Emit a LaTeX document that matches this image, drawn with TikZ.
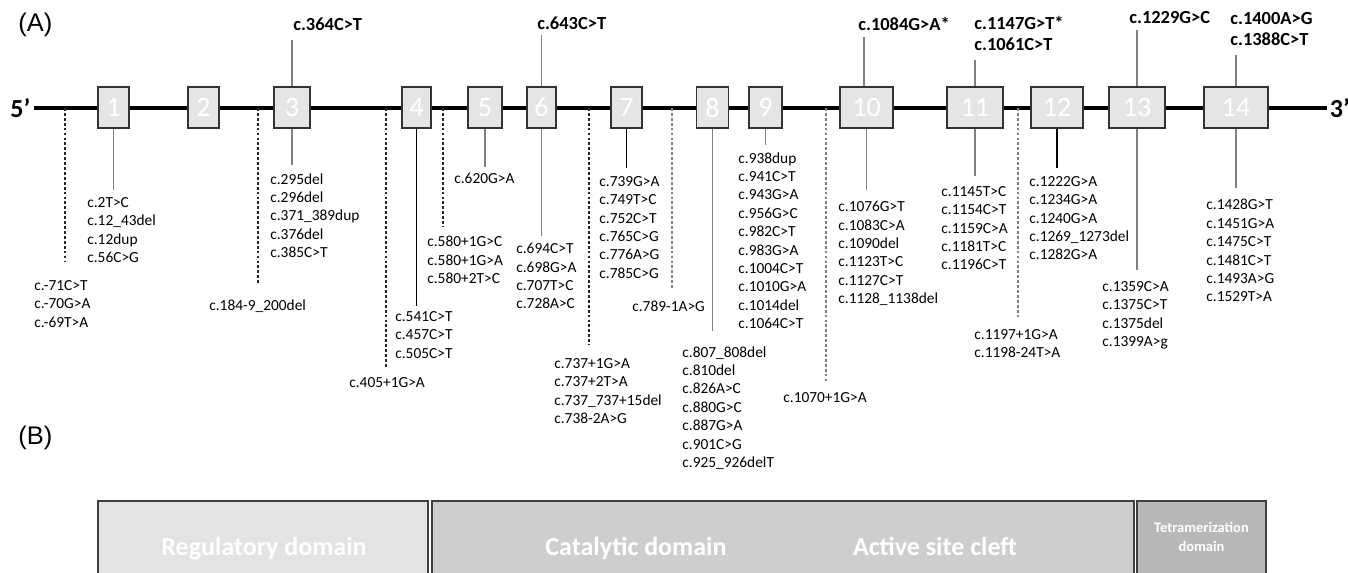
\documentclass[tikz,border=0pt]{standalone}
\usepackage{fontspec}
\setmainfont{Carlito}
\newfontfamily\arialfont{Liberation Sans}
\usepackage{tikz}
\usetikzlibrary{positioning}
\definecolor{regfill}{RGB}{227,227,227}
\definecolor{catfill}{RGB}{205,207,206}
\definecolor{tetfill}{RGB}{184,184,184}

\begin{document}
\begin{tikzpicture}[
    x=0.02cm, y=-0.02cm,
    exon/.style={rectangle, draw=black!80, line width=0.85pt, fill=gray!20, inner sep=0pt, minimum height=0.82cm, text=white, font=\fontsize{16}{18}\selectfont},
    mut/.style={anchor=north west, inner sep=0pt, align=left, font=\fontsize{8.76}{10.47}\selectfont},
    hot/.style={anchor=south west, inner sep=0pt, align=left, font=\bfseries\fontsize{10.5}{11.8}\selectfont},
    conn/.style={gray, line width=0.85pt},
    connk/.style={black, line width=0.6pt},
    dconn/.style={black!85, line width=0.6pt, dash pattern=on 1.6pt off 1.2pt},
    dom/.style={rectangle, draw=black!75, line width=0.9pt, inner sep=0pt, minimum height=1.84cm},
    domtext/.style={anchor=base, inner sep=0pt, text=white, font=\bfseries\fontsize{14.8}{16}\selectfont},
    tag/.style={anchor=west, inner sep=0pt, font=\arialfont\fontsize{14.5}{16}\selectfont}
]
    \useasboundingbox (0,0) rectangle (1348,572);

    % Panel tags
    \node[tag] (tagA) at (18,25) {(A)};
    \node[tag] (tagB) at (18,438) {(B)};

    % Gene line
    \node[anchor=west, inner sep=0.06cm, font=\bfseries\fontsize{14.8}{16}\selectfont] (five) at (7,108) {5’};
    \node[anchor=west, inner xsep=0.05cm, inner ysep=0pt, font=\bfseries\fontsize{14.8}{16}\selectfont] (three) at (1327,108) {3’};
    \draw[line width=1.9pt] (five.east) -- (three.west);

    % Exons
    \foreach \n/\cx/\w in {1/113.5/0.62, 2/203.5/0.62, 3/292/0.72, 4/416.5/0.58, 5/485/0.68,
        6/541.5/0.58, 7/626.5/0.62, 8/712.5/0.64, 9/765.5/0.66, 10/866.5/1.06,
        11/975/1.12, 12/1057/1.04, 13/1137/1.12, 14/1236/1.28}
        \node[exon, minimum width=\w cm] (e\n) at (\cx,107.5) {\n};

    % Splice sites on the intron line
    \coordinate (d1) at (65,108);
    \coordinate (d2) at (258,108);
    \coordinate (d3) at (386,108);
    \coordinate (d4) at (443,108);
    \coordinate (d5) at (589,108);
    \coordinate (d6) at (672,108);
    \coordinate (d7) at (826,108);
    \coordinate (d8) at (1018,108);

    % Recurrent mutations above
    \node[hot] (u3) at (293,31) {c.364C>T};
    \node[hot] (u6) at (537,30) {c.643C>T};
    \node[hot] (u10) at (858,31) {c.1084G>A*};
    \node[hot] (u11) at (974,51) {c.1147G>T*\\c.1061C>T};
    \node[hot] (u13) at (1129,24) {c.1229G>C};
    \node[hot] (u14) at (1230,46) {c.1400A>G\\c.1388C>T};

    \draw[conn, shorten >=0.18cm] (e3.north) -- (e3.north |- u3.south);
    \draw[conn, shorten >=0.10cm] (e6.north) -- (e6.north |- u6.south);
    \draw[conn, shorten >=0.12cm] ([xshift=-0.05cm]e10.north) -- ([xshift=-0.05cm]e10.north |- u10.south);
    \draw[conn, shorten >=0.18cm] (e11.north) -- (e11.north |- u11.south);
    \draw[conn, shorten >=0.12cm] (e13.north) -- (e13.north |- u13.south);
    \draw[conn, shorten >=0.18cm] (e14.north) -- (e14.north |- u14.south);

    % Exonic mutations below
    \node[mut] (m1) at (87,197) {c.2T>C\\c.12\_43del\\c.12dup\\c.56C>G};
    \node[mut] (m3) at (270,173) {c.295del\\c.296del\\c.371\_389dup\\c.376del\\c.385C>T};
    \node[mut] (m4) at (395,311) {c.541C>T\\c.457C>T\\c.505C>T};
    \node[mut] (m5) at (454,173) {c.620G>A};
    \node[mut] (m6) at (516,243) {c.694C>T\\c.698G>A\\c.707T>C\\c.728A>C};
    \node[mut] (m7) at (599,176) {c.739G>A\\c.749T>C\\c.752C>T\\c.765C>G\\c.776A>G\\c.785C>G};
    \node[mut] (m8) at (682,346) {c.807\_808del\\c.810del\\c.826A>C\\c.880G>C\\c.887G>A\\c.901C>G\\c.925\_926delT};
    \node[mut] (m9) at (738,152) {c.938dup\\c.941C>T\\c.943G>A\\c.956G>C\\c.982C>T\\c.983G>A\\c.1004C>T\\c.1010G>A\\c.1014del\\c.1064C>T};
    \node[mut] (m10) at (838,201) {c.1076G>T\\c.1083C>A\\c.1090del\\c.1123T>C\\c.1127C>T\\c.1128\_1138del};
    \node[mut] (m11) at (941,186) {c.1145T>C\\c.1154C>T\\c.1159C>A\\c.1181T>C\\c.1196C>T};
    \node[mut] (m12) at (1029,176) {c.1222G>A\\c.1234G>A\\c.1240G>A\\c.1269\_1273del\\c.1282G>A};
    \node[mut] (m13) at (1102,281) {c.1359C>A\\c.1375C>T\\c.1375del\\c.1399A>g};
    \node[mut] (m14) at (1206,199) {c.1428G>T\\c.1451G>A\\c.1475C>T\\c.1481C>T\\c.1493A>G\\c.1529T>A};

    \draw[conn, shorten >=0.14cm] (e1.south) -- (e1.south |- m1.north);
    \draw[conn, shorten >=0.16cm] (e3.south) -- (e3.south |- m3.north);
    \draw[connk, shorten >=0.10cm] (e4.south) -- (e4.south |- m4.north);
    \draw[conn, shorten >=0.12cm] (e5.south) -- (e5.south |- m5.north);
    \draw[conn, shorten >=0.14cm] (e6.south) -- (e6.south |- m6.north);
    \draw[connk, shorten >=0.16cm] (e7.south) -- (e7.south |- m7.north);
    \draw[conn, shorten >=0.30cm] (e8.south) -- (e8.south |- m8.north);
    \draw[conn, shorten >=0.14cm] (e9.south) -- (e9.south |- m9.north);
    \draw[conn, shorten >=0.22cm] (e10.south) -- (e10.south |- m10.north);
    \draw[conn, shorten >=0.20cm] (e11.south) -- (e11.south |- m11.north);
    \draw[connk, shorten >=0.16cm] (e12.south) -- (e12.south |- m12.north);
    \draw[conn, shorten >=0.22cm] (e13.south) -- (e13.south |- m13.north);
    \draw[conn, shorten >=0.22cm] (e14.south) -- (e14.south |- m14.north);

    % Intronic / splice mutations
    \node[mut] (s1) at (34,280) {c.-71C>T\\c.-70G>A\\c.-69T>A};
    \node[mut] (s2) at (209,299) {c.184-9\_200del};
    \node[mut] (s3) at (349,377) {c.405+1G>A};
    \node[mut] (s4) at (427,236) {c.580+1G>C\\c.580+1G>A\\c.580+2T>C};
    \node[mut] (s5) at (554,358) {c.737+1G>A\\c.737+2T>A\\c.737\_737+15del\\c.738-2A>G};
    \node[mut] (s6) at (632,301) {c.789-1A>G};
    \node[mut] (s7) at (783,392) {c.1070+1G>A};
    \node[mut] (s8) at (974,329) {c.1197+1G>A\\c.1198-24T>A};

    \draw[dconn, shorten >=0.36cm] (d1) -- (d1 |- s1.north);
    \draw[dconn, shorten >=0.30cm] (d2) -- (d2 |- s2.north);
    \draw[dconn, shorten >=0.18cm] (d3) -- (d3 |- s3.north);
    \draw[dconn, shorten >=0.18cm] (d4) -- (d4 |- s4.north);
    \draw[dconn, shorten >=0.26cm] (d5) -- (d5 |- s5.north);
    \draw[dconn, gray, shorten >=0.22cm] (d6) -- (d6 |- s6.north);
    \draw[dconn, gray, shorten >=0.18cm] (d7) -- (d7 |- s7.north);
    \draw[dconn, gray, shorten >=0.20cm] (d8) -- (d8 |- s8.north);

    % Protein domains
    \node[dom, fill=regfill, minimum width=6.6cm] (reg) at (263,547) {};
    \node[dom, fill=catfill, minimum width=14.04cm] (cat) at (783,547) {};
    \node[dom, fill=tetfill, minimum width=2.58cm] (tet) at (1201.5,547) {};
    \node[domtext] (reglbl) at (264,555.5) {Regulatory domain};
    \node[domtext] (catlbl) at (636,555.5) {Catalytic domain};
    \node[domtext] (site) at (935,555.5) {Active site cleft};
    \node[domtext, anchor=center, font=\bfseries\fontsize{8.25}{10.8}\selectfont, align=center] (tetlbl) at (1201.5,537) {Tetramerization\\domain};
\end{tikzpicture}
\end{document}
